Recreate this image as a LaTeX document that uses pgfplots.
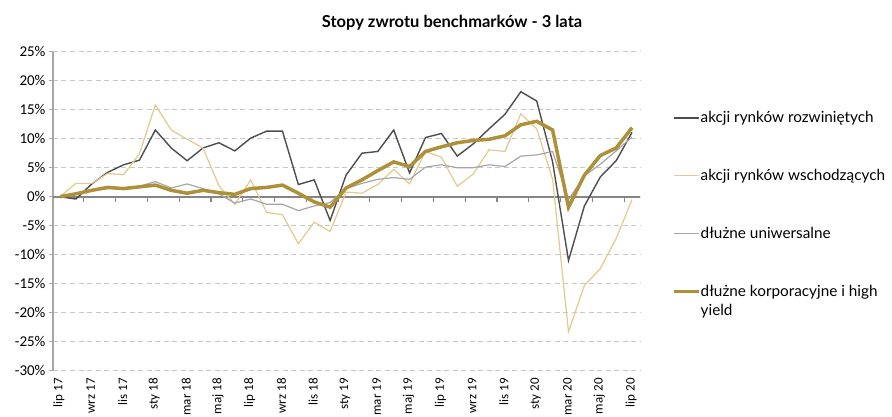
\documentclass[border=0pt]{standalone}
\usepackage{fontspec}
\setmainfont{Carlito}
\newfontfamily\legfont{Lato}
\usepackage{pgfplots}
\usepackage{pgfplotstable}
\pgfplotsset{compat=1.18}
\definecolor{cdev}{HTML}{4D4D4D}
\definecolor{cem}{HTML}{E2C98E}
\definecolor{cuni}{HTML}{A6A6A6}
\definecolor{ccorp}{HTML}{AE9039}
\definecolor{cgrid}{HTML}{C8C8C8}
\definecolor{czero}{HTML}{858585}
\pgfplotsset{corpleg/.style={legend image code/.code={\path (0pt,-9.5pt); \draw[##1] (0pt,9.5pt) -- (25pt,9.5pt);}}}

\pgfplotstableread{
i dev em uni corp
0 0 0 0 0
1 -0.4 2.3 0.5 0.5
2 2.2 2.3 1.0 1.1
3 4.2 4.0 1.4 1.6
4 5.5 3.8 1.5 1.4
5 6.3 7.4 1.8 1.7
6 11.5 15.8 2.6 2.0
7 8.4 11.5 1.5 1.1
8 6.2 9.9 2.2 0.6
9 8.4 8.4 1.4 1.1
10 9.3 1.9 0.5 0.7
11 7.9 -1.3 -1.1 0.4
12 10.1 2.9 -0.4 1.4
13 11.3 -2.7 -1.3 1.6
14 11.3 -3.1 -1.3 2.0
15 2.1 -8.1 -2.4 0.6
16 2.9 -4.4 -1.6 -0.9
17 -4.1 -6.0 -1.0 -1.8
18 3.7 0.8 1.4 1.5
19 7.5 0.6 2.3 2.9
20 7.8 2.1 3.0 4.5
21 11.5 4.7 3.3 6.0
22 4.1 2.2 3.0 5.2
23 10.2 7.8 5.1 7.8
24 10.9 6.8 5.5 8.6
25 7.0 1.8 5.0 9.3
26 9.1 3.9 5.0 9.7
27 11.7 8.1 5.5 9.9
28 14.2 7.8 5.2 10.5
29 18.1 14.3 7.0 12.4
30 16.5 11.7 7.2 13.0
31 6.0 3.0 7.8 11.5
32 -11.0 -23.3 -0.5 -1.8
33 -1.6 -15.3 3.6 3.7
34 3.4 -12.4 5.6 7.1
35 6.2 -7.2 7.9 8.4
36 11.1 -0.5 10.3 11.9
}\datatab

\begin{document}
\begin{tikzpicture}[x=1pt,y=1pt]
\begin{axis}[
  at={(53pt,45.3pt)}, anchor=south west,
  scale only axis, width=587pt, height=319pt,
  xmin=-0.44, xmax=36.5, ymin=-30, ymax=25,
  axis lines*=left,
  x axis line style={draw=none},
  y axis line style={cuni, line width=1.3pt},
  xtick={0,2,...,36},
  xticklabels={lip 17,wrz 17,lis 17,sty 18,mar 18,maj 18,lip 18,wrz 18,lis 18,sty 19,mar 19,maj 19,lip 19,wrz 19,lis 19,sty 20,mar 20,maj 20,lip 20},
  x tick label style={rotate=90, anchor=east, yshift=1pt, font=\fontsize{13}{13}\selectfont},
  xtick style={draw=none},
  ytick={-30,-25,...,25},
  yticklabels={-30\%,-25\%,-20\%,-15\%,-10\%,-5\%,0\%,5\%,10\%,15\%,20\%,25\%},
  y tick label style={font=\fontsize{15}{15}\selectfont},
  ytick style={cuni, line width=1.3pt},
  tick align=outside, major tick length=4pt,
  ymajorgrids, grid style={cgrid, line width=1.2pt, dash pattern=on 5pt off 3.5pt},
  legend cell align=left,
  legend style={at={(1.0545,0.8127)}, anchor=north west, draw=none, fill=none,
    inner sep=0pt, row sep=45pt,
    font=\legfont\fontsize{15.3}{19}\selectfont,
    nodes={inner sep=0pt, align=left},
    /tikz/every even column/.append style={column sep=2pt}},
  legend image code/.code={\draw[#1] (0pt,0pt) -- (25pt,0pt);},
]
\draw[czero, line width=2pt] (axis cs:-0.44,0) -- (axis cs:36.5,0);
\pgfplotsinvokeforeach{1.5,3.5,...,35.5}{\draw[czero, line width=1.2pt] (axis cs:#1,0) -- ++(0pt,-5pt);}
\addplot[cdev, line width=1.4pt] table[x=i, y=dev] {\datatab};
\addlegendentry{akcji rynków rozwiniętych}
\addplot[cem, line width=1.2pt] table[x=i, y=em] {\datatab};
\addlegendentry{akcji rynków wschodzących}
\addplot[cuni, line width=1.2pt] table[x=i, y=uni] {\datatab};
\addlegendentry{dłużne uniwersalne}
\addplot[ccorp, line width=3.5pt, corpleg] table[x=i, y=corp] {\datatab};
\addlegendentry{dłużne korporacyjne i high\\yield}
\end{axis}
\node[font=\legfont\bfseries\fontsize{16.5}{18}\selectfont] at (452pt,393pt) {Stopy zwrotu benchmarków - 3 lata};
\pgfresetboundingbox
\path[use as bounding box] (0pt,0pt) rectangle (892pt,416pt);
\end{tikzpicture}
\end{document}
